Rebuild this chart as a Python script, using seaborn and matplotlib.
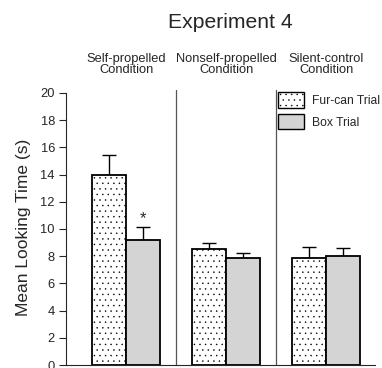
import matplotlib
matplotlib.use("Agg")
import matplotlib.pyplot as plt
import seaborn as sns
import pandas as pd
import numpy as np
from matplotlib.patches import Patch

conditions = ["Self-propelled\nCondition", "Nonself-propelled\nCondition", "Silent-control\nCondition"]
trials = ["Fur-can Trial", "Box Trial"]
fur_means = [14.0, 8.5, 7.85]
box_means = [9.2, 7.85, 8.05]
fur_err = [1.45, 0.5, 0.85]
box_err = [0.95, 0.4, 0.55]
yticks = [0, 2, 4, 6, 8, 10, 12, 14, 16, 18, 20]

sns.set_style("white")
plt.rcParams["font.family"] = ["Liberation Sans", "DejaVu Sans"]
plt.rcParams["hatch.linewidth"] = 0.3

df = pd.DataFrame({
    "cond": conditions * 2,
    "trial": [trials[0]] * 3 + [trials[1]] * 3,
    "mean": fur_means + box_means,
})

fig = plt.figure(figsize=(3.82, 3.68), dpi=100)
ax = fig.add_axes([0.173, 0.008, 0.809, 0.747])
sns.barplot(data=df, x="cond", y="mean", hue="trial", hue_order=trials,
            palette=["white", "#d4d4d4"], width=0.68, errorbar=None,
            edgecolor="black", linewidth=1.3, ax=ax, legend=False, zorder=2)

bars = ax.patches[:6]
errs = fur_err + box_err
for i, p in enumerate(bars):
    if i < 3:
        p.set_hatch("...")
    cx = p.get_x() + p.get_width() / 2
    h = p.get_height()
    ax.errorbar(cx, h, yerr=[[0], [errs[i]]], fmt="none", ecolor="black",
                elinewidth=1.0, capsize=4.7, capthick=1.0, zorder=1)

# asterisk over Box Trial in Self-propelled
p = bars[3]
ax.text(p.get_x() + p.get_width() / 2, box_means[0] + box_err[0] + 0.05, "*",
        ha="center", va="bottom", fontsize=12)

ax.set_xlim(-0.6, 2.49)
ax.set_ylim(0, 20.2)
ax.set_yticks(yticks)
ax.set_yticklabels([str(t) for t in yticks], fontsize=9.3)
ax.set_xticks([])
ax.set_xlabel("")
ax.set_ylabel("Mean Looking Time (s)", fontsize=12.5, labelpad=7)
for s in ["top", "right"]:
    ax.spines[s].set_visible(False)
ax.spines["left"].set_bounds(0, 20)
ax.spines["left"].set_linewidth(0.8)
ax.spines["bottom"].set_linewidth(0.8)
ax.tick_params(axis="y", direction="out", length=5, width=0.8, left=True, pad=3)

for xs in [0.5, 1.5]:
    ax.plot([xs, xs], [0, 20.2], color="#555555", lw=0.9, clip_on=False, zorder=0)

for i, c in enumerate(conditions):
    ax.text(i, 21.25, c, ha="center", va="bottom", fontsize=9.3, linespacing=0.82)

fig.text(0.603, 0.94, "Experiment 4", ha="center", va="center", fontsize=15.2)

handles = [Patch(facecolor="white", edgecolor="black", hatch="...", lw=1.0),
           Patch(facecolor="#d4d4d4", edgecolor="black", lw=1.0)]
ax.legend(handles, trials, loc="upper right", bbox_to_anchor=(1.03, 1.01),
          frameon=False, fontsize=8.7, handlelength=2.2, handleheight=1.6,
          handletextpad=0.6, labelspacing=0.5, borderaxespad=0)

fig.savefig("out.png", dpi=100)
